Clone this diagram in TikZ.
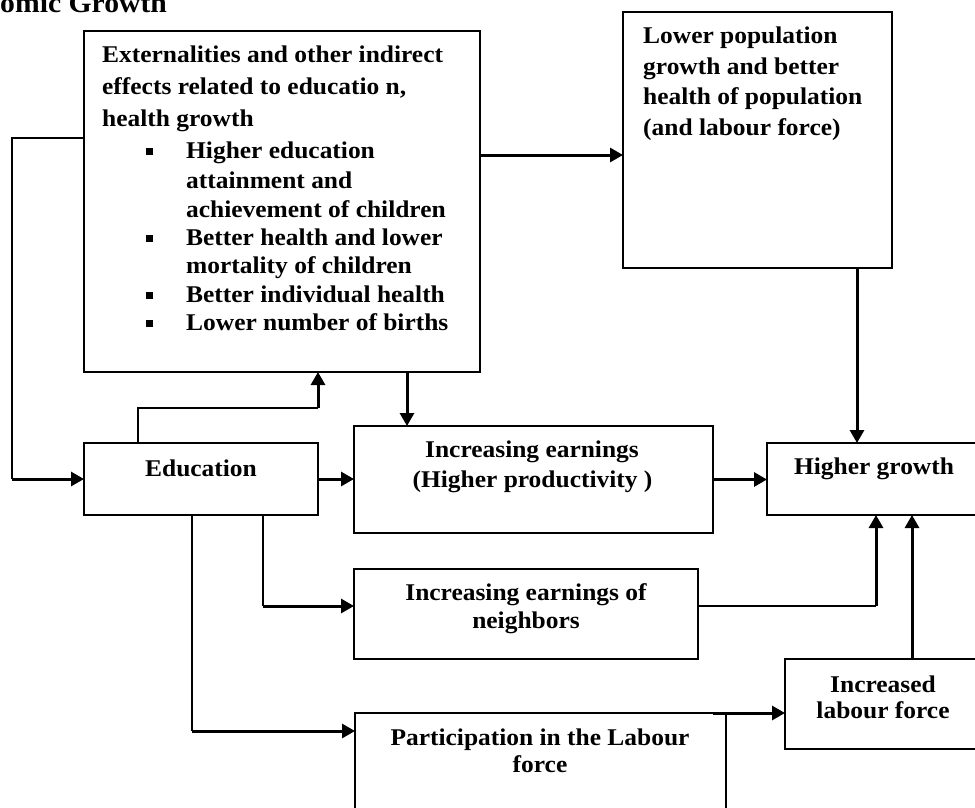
\documentclass[tikz,border=0pt]{standalone}
\usepackage{fontspec}
\setmainfont{Liberation Serif}[FakeStretch=1.06]
\usetikzlibrary{arrows.meta}
\begin{document}
\begin{tikzpicture}[x=1pt,y=-1pt,
  box/.style={draw, line width=1.6pt, inner sep=0pt, outer sep=0pt},
  txt/.style={font=\fontsize{24}{28}\selectfont\bfseries, inner sep=0pt, anchor=base west},
  ctxt/.style={txt, anchor=base},
  thinline/.style={line width=1.6pt},
  arr/.style={line width=3pt, -{Triangle[length=13pt,width=14pt]}},
  bul/.style={inner sep=0pt, anchor=base west}]
\useasboundingbox (0,0) rectangle (975,807);
\clip (0,0) rectangle (975,807);
% boxes
\node[box, minimum width=396, minimum height=341] (ext) at (282,201.5) {};
\node[box, minimum width=269, minimum height=256] (lp) at (757.5,140) {};
\node[box, minimum width=234, minimum height=72] (edu) at (201,479) {};
\node[box, minimum width=359, minimum height=107] (ie) at (533.5,479.5) {};
\node[box, minimum width=214, minimum height=72] (hg) at (874,479) {};
\node[box, minimum width=344, minimum height=90] (nb) at (526,614) {};
\node[box, minimum width=371, minimum height=117] (pl) at (540.5,771.5) {};
\node[box, minimum width=196, minimum height=90] (il) at (883,704) {};
% title (cut at the top edge, as in the reference)
\node[txt, font=\fontsize{28}{32}\selectfont\bfseries] (title) at (0,12) {omic Growth};
% ext text
\node[txt] (e1) at (102,62) {Externalities and other indirect};
\node[txt] (e2) at (102,94) {effects related to educatio n,};
\node[txt] (e3) at (102,126.5) {health growth};
\node[bul] (b1) at (146,158) {\raisebox{3pt}{\rule{7pt}{7pt}}};
\node[txt] (e4) at (186,158) {Higher education};
\node[txt] (e5) at (186,188) {attainment and};
\node[txt] (e6) at (186,217) {achievement of children};
\node[bul] (b2) at (146,245) {\raisebox{3pt}{\rule{7pt}{7pt}}};
\node[txt] (e7) at (186,245) {Better health and lower};
\node[txt] (e8) at (186,273) {mortality of children};
\node[bul] (b3) at (146,302) {\raisebox{3pt}{\rule{7pt}{7pt}}};
\node[txt] (e9) at (186,302) {Better individual health};
\node[bul] (b4) at (146,330) {\raisebox{3pt}{\rule{7pt}{7pt}}};
\node[txt] (e10) at (186,330) {Lower number of births};
% lp text
\node[txt] (l1) at (643,43) {Lower population};
\node[txt] (l2) at (643,74) {growth and better};
\node[txt] (l3) at (643,104.5) {health of population};
\node[txt] (l4) at (643,135) {(and labour force)};
% other texts
\node[ctxt] (edut) at (201,476) {Education};
\node[ctxt] (iet1) at (532,457) {Increasing earnings};
\node[ctxt] (iet2) at (532.5,487) {(Higher productivity )};
\node[ctxt] (hgt) at (874,474) {Higher growth};
\node[ctxt] (nbt1) at (526,600) {Increasing earnings of};
\node[ctxt] (nbt2) at (526,628) {neighbors};
\node[ctxt] (plt1) at (540,745) {Participation in the Labour};
\node[ctxt] (plt2) at (540,772) {force};
\node[ctxt] (ilt1) at (883,692) {Increased};
\node[ctxt] (ilt2) at (883,718) {labour force};
% coordinates
\coordinate (fb1) at (12,138);
\coordinate (fb2) at (12,479);
\coordinate (ua) at (138,408);
\coordinate (ub) at (318,408);
\coordinate (d1) at (407,0);
\coordinate (r1) at (0,155);
\coordinate (d2) at (857,0);
\coordinate (n1) at (263,606);
\coordinate (n2) at (876,606);
\coordinate (p1) at (192,731);
\coordinate (p2) at (713,713);
\coordinate (d3) at (912,0);
% connectors
\draw[thinline] (ext.west |- fb1) -- (fb1) -- (fb2);
\draw[arr] (fb2) -- (edu.west);
\draw[thinline] (edu.north -| ua) -- (ua) -- (ub);
\draw[arr] (ub) -- (ext.south -| ub);
\draw[arr] (ext.south -| d1) -- (ie.north -| d1);
\draw[arr] (edu.east) -- (ie.west |- edu.east);
\draw[arr] (ie.east) -- (hg.west |- ie.east);
\draw[arr] (ext.east |- r1) -- (lp.west |- r1);
\draw[arr] (lp.south -| d2) -- (hg.north -| d2);
\draw[thinline] (edu.south -| n1) -- (n1);
\draw[arr] (n1) -- (nb.west |- n1);
\draw[thinline] (nb.east |- n2) -- (n2);
\draw[arr] (n2) -- (hg.south -| n2);
\draw[thinline] (edu.south -| p1) -- (p1);
\draw[arr] (p1) -- (pl.west |- p1);
\draw[arr] (p2) -- (il.west |- p2);
\draw[arr] (il.north -| d3) -- (hg.south -| d3);
\end{tikzpicture}
\end{document}
